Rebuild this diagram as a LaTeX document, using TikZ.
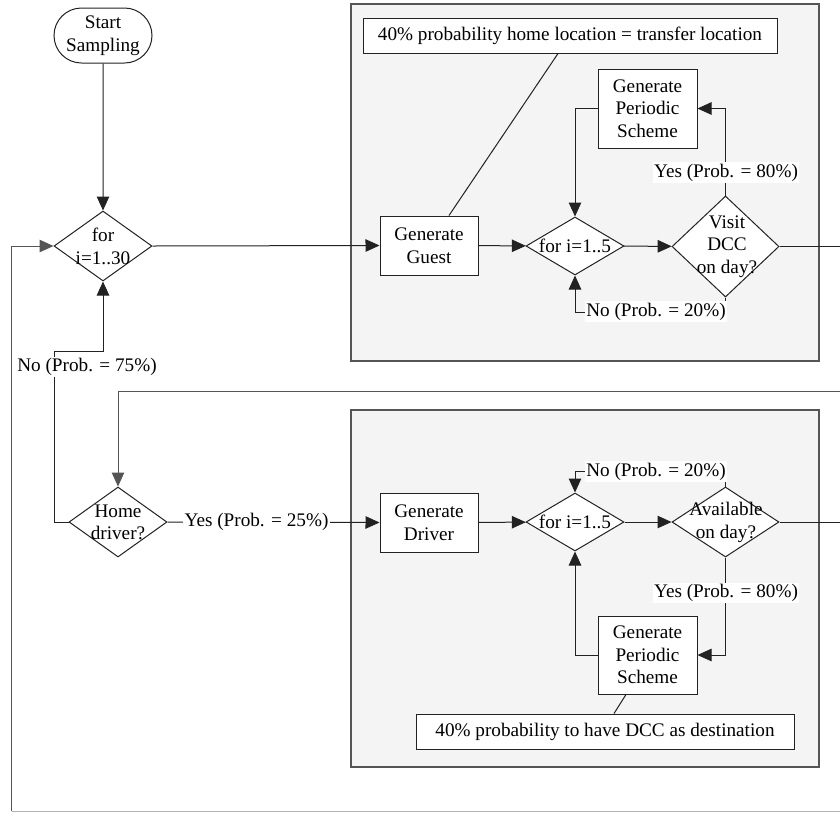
\documentclass[tikz,border=0pt]{standalone}
\usepackage{fontspec}
\setmainfont{Liberation Serif}
\usetikzlibrary{arrows.meta,shapes.geometric,shapes.misc,calc}
\definecolor{contfill}{HTML}{F4F4F4}
\definecolor{contline}{HTML}{555555}
\definecolor{ln}{HTML}{222222}
\begin{document}
\begin{tikzpicture}[x=1pt,y=-1pt,
  font=\fontsize{19.2}{22.5}\selectfont,
  line/.style={draw=ln, line width=1pt},
  arr/.style={line, -{Triangle[length=14pt,width=12.5pt]}},
  box/.style={draw=ln, line width=1pt, fill=white, rectangle, align=center, inner sep=0pt},
  dia/.style={draw=ln, line width=1pt, fill=white, diamond, inner sep=0pt},
  txt/.style={align=center, inner sep=0pt},
  lbl/.style={fill=white, inner sep=1.5pt},
  container/.style={draw=contline, line width=1.5pt, fill=contfill, rectangle, inner sep=0pt},
]
\useasboundingbox (0,0) rectangle (840,812);
\clip (0,0) rectangle (840,812);

% containers
\node[container, minimum width=468pt, minimum height=357pt] (cont1) at (585,182.5) {};
\node[container, minimum width=468pt, minimum height=357pt] (cont2) at (585,588.5) {};

% top-level nodes
\node[draw=ln, line width=1pt, fill=white, rounded rectangle, minimum width=98pt, minimum height=55pt, align=center, inner sep=0pt] (start) at (103,35.5) {Start\\Sampling};
\node[dia, minimum width=98pt, minimum height=70pt] (for30) at (103,246) {};
\node[txt] (for30t) at (103,246.5) {for\\i=1..30};
\node[dia, minimum width=98pt, minimum height=70pt] (home) at (118,522) {};
\node[txt] (homet) at (118,522.5) {Home\\driver?};

% guest subprocess
\node[box, minimum width=414pt, minimum height=35pt] (note1) at (570,35.5) {40\% probability home location = transfer location};
\node[box, minimum width=98pt, minimum height=59pt] (guest) at (429,245.5) {Generate\\Guest};
\node[dia, minimum width=98pt, minimum height=58pt] (for5a) at (575,246) {};
\node[txt] (for5at) at (575,246) {for i=1..5};
\node[dia, minimum width=107pt, minimum height=101pt] (visit) at (725.5,246.5) {};
\node[txt] (visitt) at (727,246.5) {Visit\\DCC\\on day?};
\node[box, minimum width=99pt, minimum height=79pt] (gps1) at (647.5,108.5) {Generate\\Periodic\\Scheme};

% driver subprocess
\node[box, minimum width=98pt, minimum height=59pt] (driver) at (429,522.5) {Generate\\Driver};
\node[dia, minimum width=98pt, minimum height=58pt] (for5b) at (575,522) {};
\node[txt] (for5bt) at (575,522) {for i=1..5};
\node[dia, minimum width=107pt, minimum height=70pt] (avail) at (725.5,522) {};
\node[txt] (availt) at (726,522.5) {Available\\on day?};
\node[box, minimum width=99pt, minimum height=78pt] (gps2) at (647.5,655) {Generate\\Periodic\\Scheme};
\node[box, minimum width=378pt, minimum height=35pt] (note2) at (605,731.5) {40\% probability to have DCC as destination};

% free ends
\coordinate (outA) at (850,246.5);
\coordinate (inB) at (850,391);
\coordinate (outB) at (850,522);
\coordinate (loopB) at (11.5,811);
\coordinate (loopR) at (850,811);

% connectors
\draw[arr] (start) -- (for30);
\draw[arr] (for30.east) -- (guest.west);
\draw[line] ($(guest.north)+(20,0)$) -- ($(note1.south)+(-12,0)$);
\draw[arr] (guest) -- (for5a);
\draw[arr] (for5a) -- (visit);
\draw[line] (visit.east) -- (outA);
\draw[arr] (visit.north) |- (gps1.east);
\draw[arr] (gps1.west) -| (for5a.north);
\draw[arr] (visit.south) -- ++(0,15) -| (for5a.south);

\draw[arr, draw=contline] (inB) -| (home.north);
\draw[arr] (home.east) -- (driver.west);
\draw[arr] (driver) -- (for5b);
\draw[arr] (for5b) -- (avail);
\draw[line] (avail.east) -- (outB);
\draw[arr] (avail.north) -- ++(0,-15) -| (for5b.north);
\draw[arr] (avail.south) |- (gps2.east);
\draw[arr] (gps2.west) -| (for5b.south);
\draw[line] ($(gps2.south)+(-21.5,0)$) -- ($(note2.north)+(9,0)$);

\draw[arr] (home.west) -- ++(-14,0) |- ($(for30.south)+(0,70)$) -- (for30.south);
\draw[arr, draw=contline] (loopB) |- (for30.west);
\draw[draw=black!30, line width=1pt] (loopB) -- (loopR);

% labels
\node[lbl] (yes1) at (726,172.5) {Yes (Prob. = 80\%)};
\node[lbl] (no1) at (656,311.5) {No (Prob. = 20\%)};
\node[lbl] (no2) at (656,471.5) {No (Prob. = 20\%)};
\node[lbl] (yes2) at (726,593) {Yes (Prob. = 80\%)};
\node[lbl] (yes25) at (256.5,522) {Yes (Prob. = 25\%)};
\node[lbl] (no75) at (87,367) {No (Prob. = 75\%)};
\end{tikzpicture}
\end{document}
